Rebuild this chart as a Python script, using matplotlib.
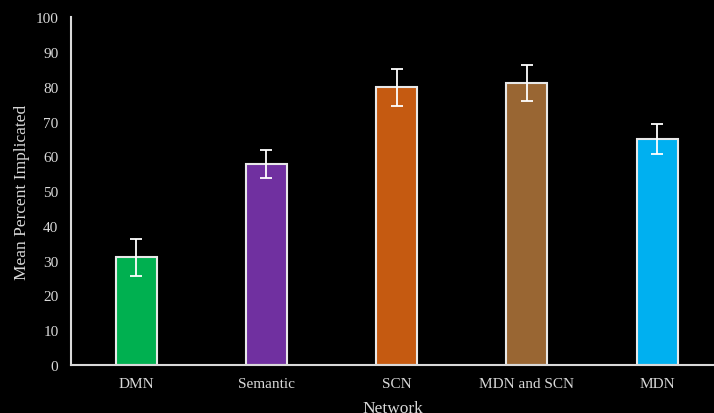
import matplotlib
matplotlib.use('Agg')
import matplotlib.pyplot as plt
import numpy as np

plt.rcParams['font.family'] = ['Liberation Serif', 'DejaVu Serif']

# data
networks = ['DMN', 'Semantic', 'SCN', 'MDN and SCN', 'MDN']
mean_pct = [31.0, 57.8, 79.8, 81.0, 65.0]
err_pct = [5.3, 4.0, 5.3, 5.2, 4.3]
bar_colors = ['#00b050', '#7030a0', '#c55a11', '#996633', '#00b0f0']

fg = '#d9d9d9'

fig = plt.figure(figsize=(7.14, 4.14), dpi=100, facecolor='black')
ax = fig.add_axes([0.0994, 0.116, 0.9006, 0.840], facecolor='black')

x = np.arange(len(networks))
ax.bar(x, mean_pct, width=0.315, color=bar_colors, edgecolor='#e8e8e8', linewidth=1.5, zorder=2)
ax.errorbar(x, mean_pct, yerr=err_pct, fmt='none', ecolor='white',
            elinewidth=1.3, capsize=4, capthick=1.3, zorder=3)

ax.set_xlim(-0.5, 4.436)
ax.set_ylim(0, 100)
ax.set_yticks(range(0, 101, 10))
ax.set_xticks(x)
ax.set_xticklabels(networks)
ax.tick_params(length=0, colors=fg, labelsize=11)
ax.tick_params(axis='x', pad=9)
ax.tick_params(axis='y', pad=9)

for side in ['top', 'right']:
    ax.spines[side].set_visible(False)
for side in ['left', 'bottom']:
    ax.spines[side].set_color(fg)
    ax.spines[side].set_linewidth(1.5)

ax.set_ylabel('Mean Percent Implicated', color=fg, fontsize=12.5, labelpad=4)
ax.set_xlabel('Network', color=fg, fontsize=12.5, labelpad=7)

fig.savefig('out.png', dpi=100, facecolor='black')
